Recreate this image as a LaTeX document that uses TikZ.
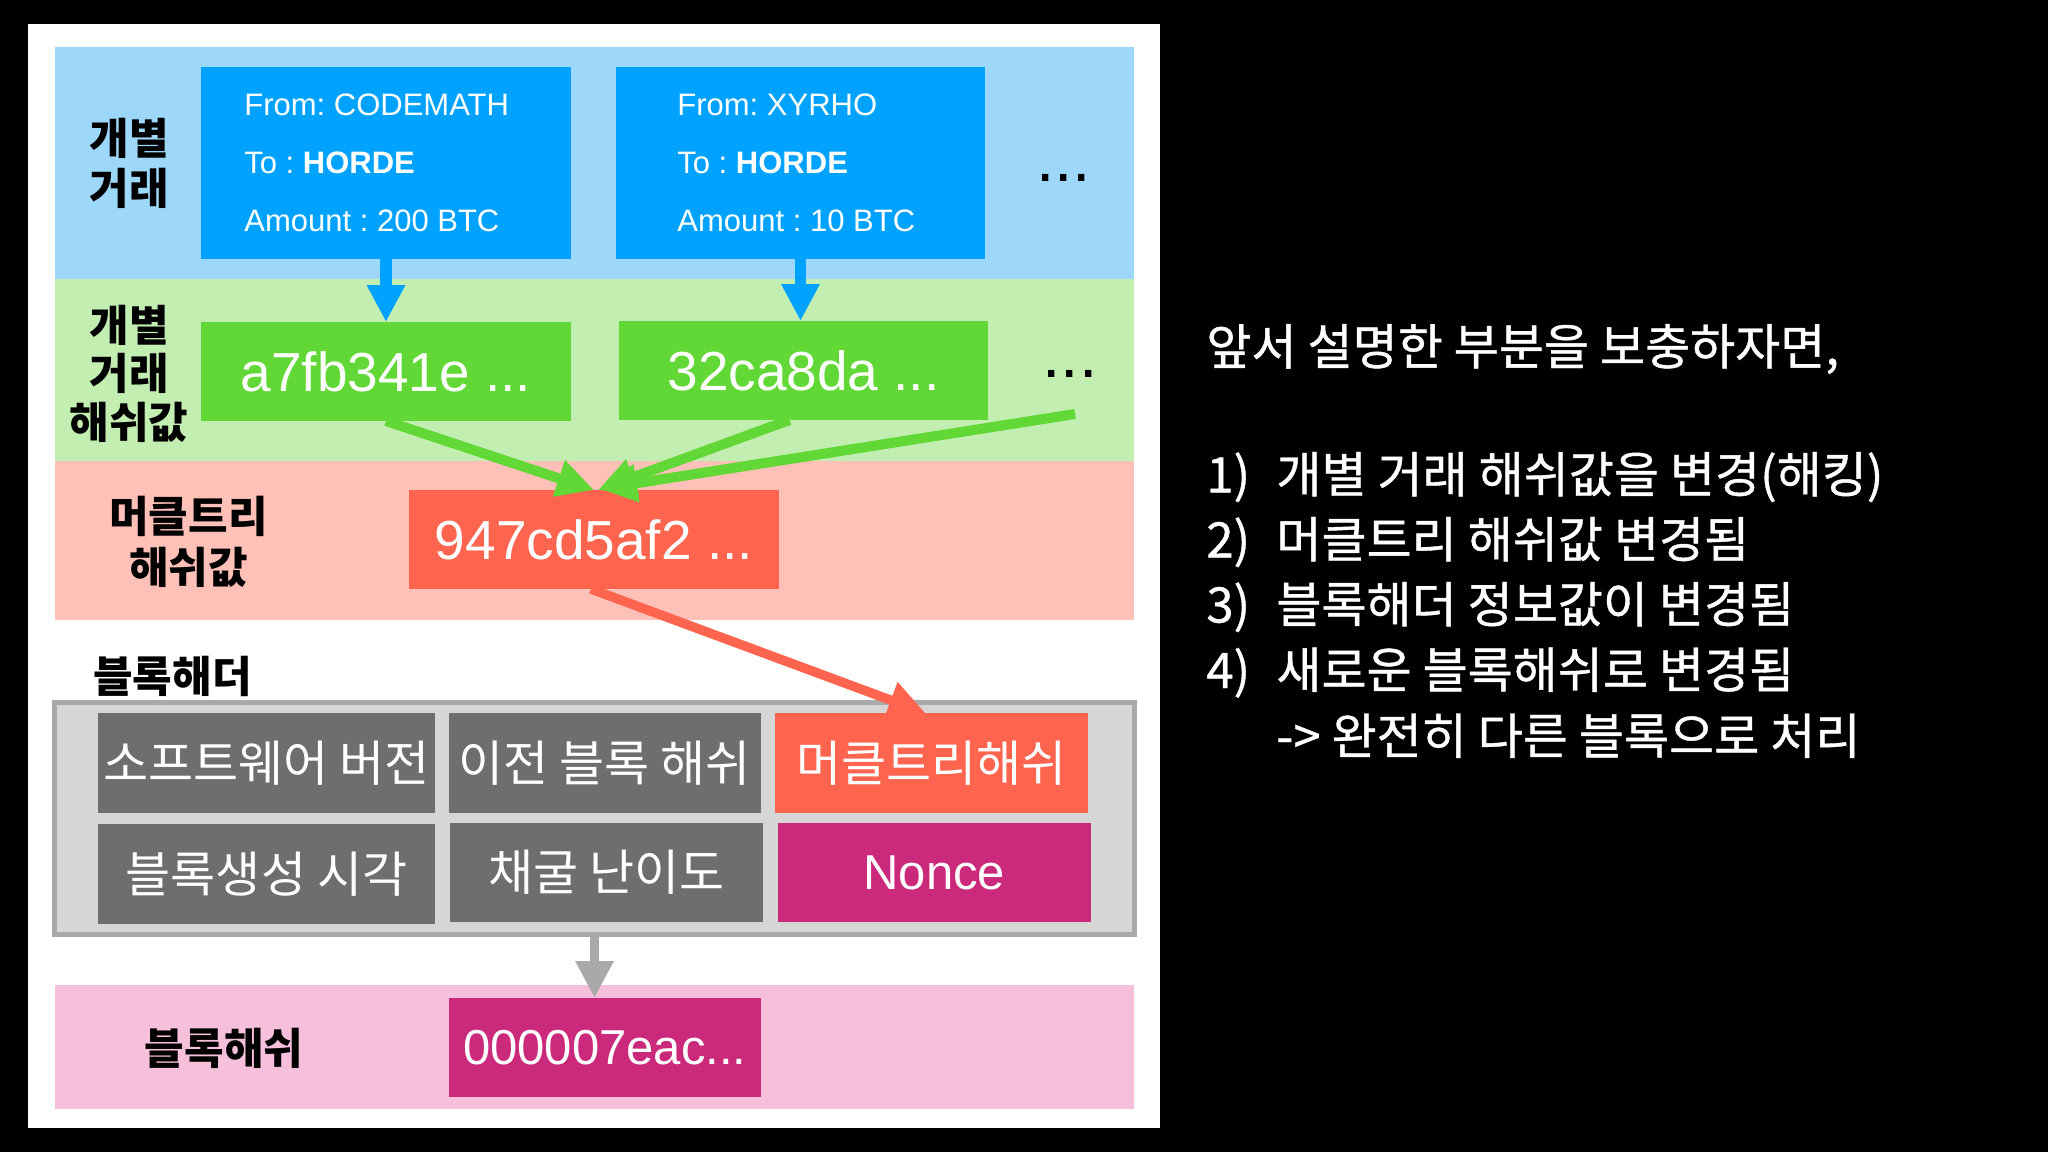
\documentclass[tikz,border=0pt]{standalone}
\usepackage{fontspec}
\setmainfont{Liberation Sans}
\newfontfamily\kr{Noto Sans CJK KR}
\newfontfamily\krm{Noto Sans CJK KR}[FakeBold=0.8]
\usetikzlibrary{arrows.meta,calc}
\frenchspacing
\definecolor{bandblue}{HTML}{9DD8FB}
\definecolor{txblue}{HTML}{00A2FF}
\definecolor{bandgreen}{HTML}{C3EEB2}
\definecolor{hgreen}{HTML}{61D836}
\definecolor{bandsalmon}{HTML}{FFC0B7}
\definecolor{mred}{HTML}{FF644E}
\definecolor{hdrfill}{HTML}{D6D6D6}
\definecolor{hdrborder}{HTML}{A9A9A9}
\definecolor{cellgrey}{HTML}{6E6E6E}
\definecolor{mag}{HTML}{CB297B}
\definecolor{bandpink}{HTML}{F6C0DC}
\begin{document}
\begin{tikzpicture}[x=0.5pt,y=-0.5pt,
  box/.style={inner sep=0pt,outer sep=0pt,draw=none,fill=#1},
  lbl/.style={inner sep=0pt,align=center,text=black,font=\kr\bfseries\fontsize{21.5}{25}\selectfont},
  txt/.style={anchor=base west,inner sep=0pt,text=white,font=\fontsize{15.5}{18}\selectfont},
  hashtxt/.style={text=white,font=\fontsize{27.5}{30}\selectfont},
  smalltxt/.style={text=white,font=\fontsize{24.5}{28}\selectfont},
  celltxt/.style={text=white,font=\kr\fontsize{24.5}{28}\selectfont},
  dotstxt/.style={inner sep=0pt,text=black,font=\fontsize{33}{36}\selectfont},
  arr/.style={draw=#1,line width=5pt,-{Triangle[length=18.5pt,width=18pt]}},
  rt/.style={anchor=base west,inner sep=0pt,text=white,font=\krm\fontsize{24.5}{28}\selectfont}
]
% background and panel
\fill[black] (0,0) rectangle (2048,1152);
\useasboundingbox (0,0) rectangle (2048,1152);
\fill[white] (28,24) rectangle (1160,1128);
% bands
\fill[bandblue] (55,47) rectangle (1134,279);
\fill[bandgreen] (55,279) rectangle (1134,461);
\fill[bandsalmon] (55,461) rectangle (1134,620);
\fill[bandpink] (55,985) rectangle (1134,1109);

% row labels
\node[lbl] (lab1) at (129,163) {개별\\거래};
\node[lbl,font=\kr\bfseries\fontsize{21.5}{24.25}\selectfont] (lab2) at (129,373.5) {개별\\거래\\해쉬값};
\node[lbl,font=\kr\bfseries\fontsize{21.5}{25.5}\selectfont] (lab3) at (188.5,542) {머클트리\\해쉬값};
\node[lbl] (lab4) at (172.5,676.7) {블록해더};
\node[lbl] (lab5) at (224,1048) {블록해쉬};

% transactions
\node[box=txblue,minimum width=185pt,minimum height=96pt] (tx1) at (386,163) {};
\node[box=txblue,minimum width=184.5pt,minimum height=96pt] (tx2) at (800.5,163) {};
\node[txt] (t1a) at (244,115) {From: CODEMATH};
\node[txt] (t1b) at (244,173.3) {To : \textbf{HORDE}};
\node[txt] (t1c) at (244,231.7) {Amount : 200 BTC};
\node[txt] (t2a) at (677,115) {From: XYRHO};
\node[txt] (t2b) at (677,173.3) {To : \textbf{HORDE}};
\node[txt] (t2c) at (677,231.7) {Amount : 10 BTC};
\node[dotstxt] (dots1) at (1063.5,178) {...};

% transaction hashes
\node[box=hgreen,hashtxt,minimum width=185pt,minimum height=49.5pt] (h1) at (386,371.5) {a7fb341e ...};
\node[box=hgreen,hashtxt,minimum width=184.5pt,minimum height=49.5pt] (h2) at (803.5,370.5) {32ca8da ...};
\node[dotstxt] (dots2) at (1070,374.3) {...};
\coordinate (h3) at (1075,414);

% merkle root
\node[box=mred,hashtxt,minimum width=185pt,minimum height=49.5pt] (mk) at (594,539.5) {947cd5af2 ...};

% block header
\node[inner sep=0pt,fill=hdrfill,draw=hdrborder,line width=2.5pt,minimum width=540pt,minimum height=116pt] (hdr) at (594.5,818.5) {};
\node[box=cellgrey,celltxt,minimum width=168.5pt,minimum height=50pt] (sw) at (266.5,763) {소프트웨어 버전};
\node[box=cellgrey,celltxt,minimum width=156.25pt,minimum height=50pt] (pv) at (604.75,763) {이전 블록 해쉬};
\node[box=mred,celltxt,minimum width=156.5pt,minimum height=50pt] (mh) at (931.5,763) {머클트리해쉬};
\node[box=cellgrey,celltxt,minimum width=168.5pt,minimum height=50pt] (bt) at (266.5,874) {블록생성 시각};
\node[box=cellgrey,celltxt,minimum width=156.75pt,minimum height=49.5pt] (df) at (606.25,872.5) {채굴 난이도};
\node[box=mag,smalltxt,minimum width=156.7pt,minimum height=49.5pt] (nc) at (934.3,872.5) {Nonce};

% block hash
\node[box=mag,smalltxt,minimum width=156.25pt,minimum height=49.5pt] (hb) at (604.75,1047.5) {000007eac...};

% arrows
\draw[arr=txblue,line width=5.8pt] (tx1.south) -- (tx1.south |- h1.north);
\draw[arr=txblue,line width=5.8pt] (tx2.south) -- (tx2.south |- h2.north);
\draw[arr=hgreen] (h1.south) -- (mk.north);
\draw[arr=hgreen] ($(h2.south)+(-14,0)$) -- ($(mk.north)+(4,0)$);
\draw[arr=hgreen] (h3) -- ($(mk.north)+(6,-1)$);
\draw[arr=mred,line width=4.7pt] ($(mk.south)+(-3,0)$) -- ($(mh.north)+(-6,0)$);
\draw[arr=hdrborder,line width=4.7pt] (hdr.south) -- (hdr.south |- hb.north);

% right text
\node[rt] (intro) at (1206,364.7) {앞서 설명한 부분을 보충하자면,};
\node[rt] (n1) at (1206,492.5) {1)};
\node[rt] (l1) at (1276,492.5) {개별 거래 해쉬값을 변경(해킹)};
\node[rt] (n2) at (1206,557.5) {2)};
\node[rt] (l2) at (1276,557.5) {머클트리 해쉬값 변경됨};
\node[rt] (n3) at (1206,622.5) {3)};
\node[rt] (l3) at (1276,622.5) {블록해더 정보값이 변경됨};
\node[rt] (n4) at (1206,688) {4)};
\node[rt] (l4) at (1276,688) {새로운 블록해쉬로 변경됨};
\node[rt] (l5) at (1276,754) {-> 완전히 다른 블록으로 처리};
\end{tikzpicture}
\end{document}
